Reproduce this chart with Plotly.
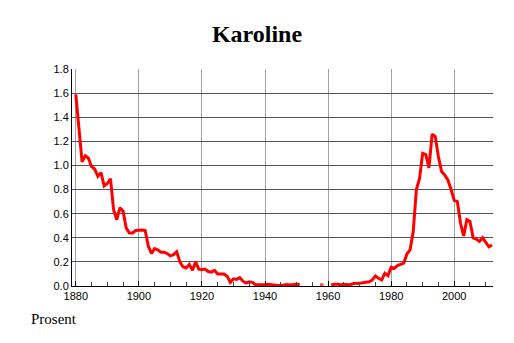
import plotly.graph_objects as go

years = list(range(1880, 2013))
values = [
    1.59, 1.30, 1.03, 1.08, 1.06, 0.99, 0.97, 0.91, 0.94, 0.83,   # 1880-1889
    0.85, 0.89, 0.63, 0.55, 0.65, 0.62, 0.48, 0.44, 0.44, 0.46,   # 1890-1899
    0.465, 0.465, 0.46, 0.33, 0.27, 0.31, 0.30, 0.28, 0.28, 0.27, # 1900-1909
    0.25, 0.26, 0.285, 0.20, 0.16, 0.15, 0.18, 0.13, 0.20, 0.14,  # 1910-1919
    0.135, 0.14, 0.12, 0.115, 0.13, 0.10, 0.10, 0.10, 0.08, 0.03, # 1920-1929
    0.06, 0.055, 0.07, 0.04, 0.025, 0.035, 0.03, 0.01, 0.01, 0.008, # 1930-1939
    0.01, 0.015, 0.01, 0.01, 0.005, 0.005, 0.01, 0.012, 0.008, 0.012, # 1940-1949
    0.015, 0.012, None, None, None, None, None, None, 0.008, None,   # 1950-1959
    None, 0.008, 0.015, 0.015, 0.01, 0.012, 0.008, 0.01, 0.02, 0.02,  # 1960-1969
    0.022, 0.027, 0.03, 0.035, 0.05, 0.083, 0.064, 0.05, 0.105, 0.086, # 1970-1979
    0.155, 0.147, 0.17, 0.18, 0.19, 0.265, 0.30, 0.45, 0.80, 0.89,   # 1980-1989
    1.10, 1.09, 0.98, 1.26, 1.24, 1.07, 0.95, 0.92, 0.88, 0.80,      # 1990-1999
    0.71, 0.70, 0.52, 0.415, 0.55, 0.535, 0.40, 0.39, 0.37, 0.40,    # 2000-2009
    0.36, 0.325, 0.34,                                              # 2010-2012
]
y_ticks = [0.0, 0.2, 0.4, 0.6, 0.8, 1.0, 1.2, 1.4, 1.6, 1.8]
x_ticks = [1880, 1900, 1920, 1940, 1960, 1980, 2000]
title = "Karoline"
y_label = "Prosent"

# markers only for isolated points (so they remain visible as dots)
sizes = []
for i, v in enumerate(values):
    prev_v = values[i - 1] if i > 0 else None
    next_v = values[i + 1] if i < len(values) - 1 else None
    sizes.append(4 if (v is not None and prev_v is None and next_v is None) else 0)

fig = go.Figure()
fig.add_trace(go.Scatter(
    x=years, y=values, mode="lines+markers",
    line=dict(color="#ff0000", width=3),
    marker=dict(color="#ff0000", size=sizes, line=dict(width=0)),
    connectgaps=False, hoverinfo="skip", showlegend=False,
))

fig.update_layout(
    width=514, height=343,
    margin=dict(l=72, r=21, t=69, b=57),
    paper_bgcolor="white", plot_bgcolor="white",
    title=dict(text="<b>" + title + "</b>", x=0.5, xanchor="center",
               y=1 - 34 / 343, yanchor="middle",
               font=dict(family="Liberation Serif", size=24, color="black")),
    font=dict(family="Liberation Sans", size=11, color="black"),
    annotations=[dict(text=y_label, xref="paper", yref="paper",
                      x=-0.102, y=-0.105, xanchor="left", yanchor="top",
                      showarrow=False,
                      font=dict(family="Liberation Serif", size=15, color="black"))],
)
fig.update_xaxes(
    range=[1878.8, 2012.3], tickmode="array", tickvals=x_ticks,
    ticktext=[str(t) for t in x_ticks],
    showgrid=True, gridcolor="#a0a0a0", gridwidth=1,
    showline=True, linecolor="black", linewidth=1,
    ticks="inside", ticklen=5, tickcolor="black",
    minor=dict(dtick=5, tick0=1880, ticks="inside", ticklen=4, tickcolor="#444", showgrid=False),
    zeroline=False, tickfont=dict(size=11),
)
fig.update_yaxes(
    range=[0, 1.8], tickmode="array", tickvals=y_ticks,
    ticktext=["%.1f" % t for t in y_ticks],
    showgrid=True, gridcolor="#555555", gridwidth=1,
    showline=True, linecolor="black", linewidth=1,
    ticks="", zeroline=False, tickfont=dict(size=11),
)

fig.write_html("out.html")
